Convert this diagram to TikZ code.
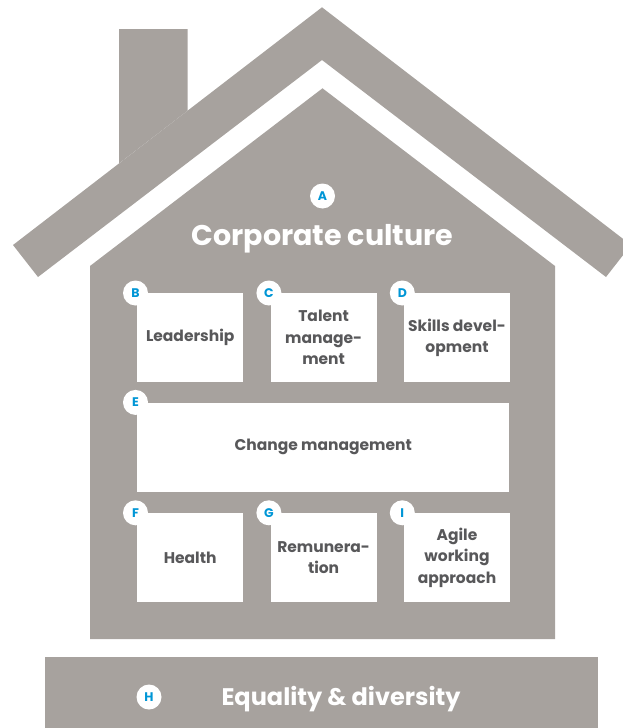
\documentclass[tikz,border=0pt]{standalone}
\usepackage{fontspec}
\setmainfont{Poppins}
\usepackage{tikz}
\usetikzlibrary{positioning}
\definecolor{housegray}{RGB}{167,162,158}
\definecolor{textgray}{RGB}{88,88,90}
\definecolor{badgeblue}{RGB}{0,150,214}

\begin{document}
\begin{tikzpicture}[x=1pt,y=-1pt]
    \tikzstyle{housefill}=[fill=housegray]
    \tikzstyle{pillar}=[rectangle,fill=white,anchor=north west,inner sep=0pt,minimum width=106pt,minimum height=89pt,align=center,text=textgray,font=\bfseries\fontsize{15.5}{21.5}\selectfont]
    \tikzstyle{badge}=[circle,fill=white,inner sep=0pt,minimum size=25pt,text=badgeblue,font=\bfseries\fontsize{12.5}{12.5}\selectfont]
    \useasboundingbox (0,0) rectangle (623,728);
    \clip (0,0) rectangle (623,728);
    % roof and chimney
    \fill[housefill] (119,29) -- (187.7,29) -- (187.7,110.6) -- (119,163.4) -- cycle;
    \fill[housefill] (13,245) -- (322,7.3) -- (631,245) -- (606,277) -- (322,60) -- (38,277) -- cycle;
    % house body and base
    \fill[housefill] (90,266) -- (322.5,88.3) -- (555,266) -- (555,639) -- (90,639) -- cycle;
    \fill[housefill] (45,657) rectangle (598,728);
    \node[text=white,font=\bfseries\fontsize{28.5}{28.5}\selectfont,anchor=base] (culture) at (322.5,245) {Corporate culture};
    \node[badge] (bA) at (322.5,196) {A};
    % pillars
    \node[pillar] (lead) at (137,293) {Leadership};
    \node[pillar,right=27pt of lead] (talent) {Talent\\manage-\\ment};
    \node[pillar,right=27pt of talent] (skills) {Skills devel-\\opment};
    \node[pillar,minimum width=372pt,below right=20pt and 0pt of lead.south west] (change) {Change management};
    \node[pillar,below right=21pt and 0pt of change.south west] (health) {Health};
    \node[pillar,right=27pt of health] (pay) {Remunera-\\tion};
    \node[pillar,right=27pt of pay] (agile) {Agile\\working\\approach};
    \node[badge] (bB) at ([xshift=-1.5pt]lead.north west) {B};
    \node[badge] (bC) at ([xshift=-1.5pt]talent.north west) {C};
    \node[badge] (bD) at ([xshift=-1.5pt]skills.north west) {D};
    \node[badge] (bE) at ([xshift=-1.5pt]change.north west) {E};
    \node[badge] (bF) at ([xshift=-1.5pt]health.north west) {F};
    \node[badge] (bG) at ([xshift=-1.5pt]pay.north west) {G};
    \node[badge] (bI) at ([xshift=-1.5pt]agile.north west) {I};
    % base
    \node[text=white,font=\bfseries\fontsize{24}{24}\selectfont,anchor=base] (equal) at (341,705) {Equality \& diversity};
    \node[badge] (bH) at (149,697) {H};
\end{tikzpicture}
\end{document}
